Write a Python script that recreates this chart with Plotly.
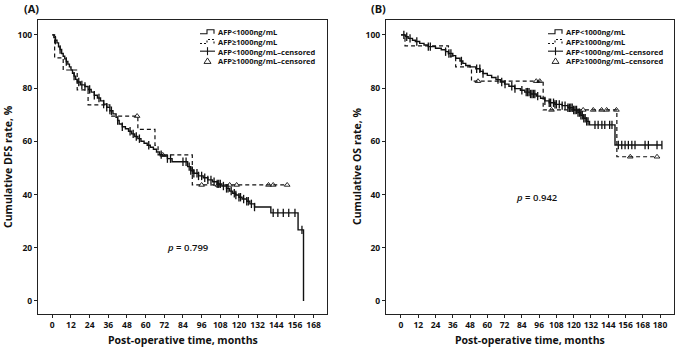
import numpy as np
import plotly.graph_objects as go

W, H = 677, 349

# ---------------- Panel A: DFS ----------------
dfs_low_t = [0, 1, 2, 3, 4, 5, 6, 7, 8, 9, 10, 11, 12, 13, 14, 15, 16, 18, 21, 23, 25, 27, 29, 31, 33, 35,
             37, 39, 41, 42, 43, 45, 47, 49, 51, 53, 55, 57, 59, 61, 63, 65, 67, 69, 71, 74, 77, 87, 89,
             91, 94, 97, 100, 103, 106, 109, 112, 114, 116, 118, 120, 122, 125, 127, 130, 140.5, 158, 161.5]
dfs_low_s = [100, 99, 98, 97, 95.5, 94.5, 93, 92, 91, 90, 89, 88, 86.8, 85.6, 84.5, 83.3, 82.3, 81.2, 80.6,
             79.5, 78.5, 77.3, 76.3, 75.2, 74, 72.8, 71.5, 70.3, 69, 67.8, 66.5, 65.5, 64.7, 63.8, 62.8,
             61.8, 61, 60, 59.3, 58.5, 57.8, 57, 56, 55, 54.5, 53.5, 52.3, 50.5, 49, 48, 47, 46.3, 45.5,
             44.8, 44, 43.2, 42.3, 41.3, 40.5, 39.8, 39, 38.3, 37.5, 36.5, 35.3, 33.1, 26.7, 0]
dfs_low_cens = [2, 5, 9, 14, 17, 19, 21, 24, 27, 30, 33, 35, 38, 42, 45, 50, 52, 54, 56, 62, 70, 74, 76,
                84, 86, 88, 89, 90, 91, 93, 94, 96, 98, 100, 102, 104, 106, 107, 108, 110, 112, 113, 115,
                117, 118, 120, 121, 123, 125, 126, 128, 130, 142, 145, 148.5, 152, 156, 160.5]
dfs_high_t = [0, 1.5, 7, 16, 23, 37, 55, 66, 68, 90]
dfs_high_s = [100, 91.4, 86.8, 79.3, 73.7, 69.5, 64.5, 58.5, 54.9, 43.6]
dfs_high_cens = [54.5, 71, 96, 106.5, 114, 118.5, 139, 142, 151]

# ---------------- Panel B: OS ----------------
os_low_t = [0, 3, 5, 8, 10, 13, 16, 19, 24, 28, 31, 33, 36, 38, 41, 43, 45, 48, 52, 55, 57, 60, 63, 66,
            69, 72, 75, 79, 83, 86, 90, 94, 97, 100, 103, 107, 112, 116, 120, 123, 125, 127, 129, 131,
            148.7]
os_low_s = [100, 99.3, 98.7, 98, 97.5, 96.8, 96.2, 95.6, 95, 94.4, 93.7, 93, 92.2, 91.2, 90.2, 89.3,
            88.5, 88, 87.3, 86.3, 85.5, 84.8, 84, 83.2, 82.3, 81.5, 80.7, 79.8, 79.2, 78.5, 77.8, 77,
            76.2, 75.2, 74.5, 73.9, 73.4, 72.6, 71.8, 70.8, 69.8, 68.7, 67.5, 66.2, 58.6]
os_low_cens = [2, 4, 6.3, 11, 19, 20.4, 31, 33.3, 34.7, 42, 52.6, 54.8, 57, 67.4, 70, 72.3, 77, 79.2, 84,
               87, 88, 89, 90, 91, 92, 93, 95, 100, 103, 104, 106, 107, 108, 110, 112, 114, 116, 117,
               118, 119, 120, 121, 122, 123, 124, 125, 126, 127, 128, 129, 130, 134.8, 137, 139.6, 141.6,
               145, 146.6, 151, 153.4, 155.7, 158, 160.4, 162.6, 169.6, 171.9, 177.9, 181.3]
os_high_t = [0, 2.8, 33, 38, 49, 98.8, 150]
os_high_s = [100, 95.9, 92, 88, 82.6, 71.8, 54.2]
os_high_cens = [53.5, 94, 96.4, 104.6, 126.6, 133.6, 139.4, 142.9, 149.7, 159.3, 177.9]

x_ticks_a = list(range(0, 169, 12))
x_ticks_b = list(range(0, 181, 12))
y_ticks = [0, 20, 40, 60, 80, 100]

legend_labels = ["AFP<1000ng/mL", "AFP\u22651000ng/mL", "AFP<1000ng/mL\u2013censored",
                 "AFP\u22651000ng/mL\u2013censored"]

FONT = "Open Sans"
INK = "#111111"


def step_value(ts, ss, t):
    i = np.searchsorted(np.asarray(ts), t, side="right") - 1
    return ss[max(i, 0)]


def curve_xy(ts, ss, cens):
    end = max(ts[-1], max(cens))
    return list(ts) + [end], list(ss) + [ss[-1]]


fig = go.Figure()


def add_panel(xa, ya, lo_t, lo_s, lo_c, hi_t, hi_s, hi_c):
    x, y = curve_xy(hi_t, hi_s, hi_c)
    fig.add_trace(go.Scatter(x=x, y=y, mode="lines", line=dict(color=INK, width=1.2, dash="4px,3px", shape="hv"),
                             xaxis=xa, yaxis=ya, showlegend=False, hoverinfo="skip"))
    x, y = curve_xy(lo_t, lo_s, lo_c)
    fig.add_trace(go.Scatter(x=x, y=y, mode="lines", line=dict(color=INK, width=1.4, shape="hv"),
                             xaxis=xa, yaxis=ya, showlegend=False, hoverinfo="skip"))
    fig.add_trace(go.Scatter(x=lo_c, y=[step_value(lo_t, lo_s, t) for t in lo_c], mode="markers",
                             marker=dict(symbol="line-ns", size=6, line=dict(color=INK, width=1.3)),
                             xaxis=xa, yaxis=ya, showlegend=False, hoverinfo="skip"))
    fig.add_trace(go.Scatter(x=hi_c, y=[step_value(hi_t, hi_s, t) for t in hi_c], mode="markers",
                             marker=dict(symbol="triangle-up-open", size=5, color=INK,
                                         line=dict(color=INK, width=0.9)),
                             xaxis=xa, yaxis=ya, showlegend=False, hoverinfo="skip"))


add_panel("x", "y", dfs_low_t, dfs_low_s, dfs_low_cens, dfs_high_t, dfs_high_s, dfs_high_cens)
add_panel("x2", "y2", os_low_t, os_low_s, os_low_cens, os_high_t, os_high_s, os_high_cens)


def px(xp):
    return xp / W


def py(yp):
    return 1 - yp / H


ydom = [py(314), py(20)]
axis_common = dict(showline=True, linecolor="#222222", linewidth=1.3, mirror=True, ticks="outside",
                   ticklen=3, tickwidth=1, tickcolor="#222222", showgrid=False, zeroline=False,
                   tickfont=dict(family=FONT, size=8.5, color=INK, weight="bold"))

fig.update_layout(
    width=W, height=H, margin=dict(l=0, r=0, t=0, b=0),
    paper_bgcolor="white", plot_bgcolor="white", showlegend=False,
    xaxis=dict(domain=[px(38), px(327)], range=[-9.2, 176.6], tickvals=x_ticks_a, anchor="y", **axis_common),
    yaxis=dict(domain=ydom, range=[-4.9, 105.6], tickvals=y_ticks, anchor="x", **axis_common),
    xaxis2=dict(domain=[px(386), px(674)], range=[-10.4, 189.7], tickvals=x_ticks_b, anchor="y2", **axis_common),
    yaxis2=dict(domain=ydom, range=[-4.9, 105.6], tickvals=y_ticks, anchor="x2", **axis_common),
)

ann = []
bold = dict(family=FONT, color=INK, weight="bold")
# panel letters
ann.append(dict(x=px(22), y=py(9), xref="paper", yref="paper", text="(A)", showarrow=False,
                xanchor="left", yanchor="middle", font=dict(size=11, **bold)))
ann.append(dict(x=px(369), y=py(9), xref="paper", yref="paper", text="(B)", showarrow=False,
                xanchor="left", yanchor="middle", font=dict(size=11, **bold)))
# axis titles
ann.append(dict(x=px(183), y=py(340), xref="paper", yref="paper", text="Post-operative time, months",
                showarrow=False, xanchor="center", yanchor="middle", font=dict(size=10.5, **bold)))
ann.append(dict(x=px(530), y=py(340), xref="paper", yref="paper", text="Post-operative time, months",
                showarrow=False, xanchor="center", yanchor="middle", font=dict(size=10.5, **bold)))
ann.append(dict(x=px(8), y=py(167), xref="paper", yref="paper", text="Cumulative DFS rate, %",
                showarrow=False, textangle=-90, xanchor="center", yanchor="middle", font=dict(size=10.5, **bold)))
ann.append(dict(x=px(357), y=py(167), xref="paper", yref="paper", text="Cumulative OS rate, %",
                showarrow=False, textangle=-90, xanchor="center", yanchor="middle", font=dict(size=10.5, **bold)))
# p-values
ann.append(dict(x=px(188), y=py(247), xref="paper", yref="paper", text="<i>p</i> = 0.799",
                showarrow=False, xanchor="center", yanchor="middle",
                font=dict(size=9.5, family=FONT, color=INK, weight=600)))
ann.append(dict(x=px(537), y=py(197), xref="paper", yref="paper", text="<i>p</i> = 0.942",
                showarrow=False, xanchor="center", yanchor="middle",
                font=dict(size=9.5, family=FONT, color=INK, weight=600)))

shapes = []
LEG_FS = 7.5
lh = LEG_FS * 1.3
leg_mid = 46.3
leg_rows = [leg_mid + (i - 1.5) * lh for i in range(4)]
for x0 in (200, 548):
    xt = x0 + 17
    ann.append(dict(x=px(xt), y=py(leg_mid), xref="paper", yref="paper", text="<br>".join(legend_labels),
                    showarrow=False, xanchor="left", yanchor="middle", align="left",
                    borderpad=0, font=dict(size=LEG_FS, **bold)))
    # row1: solid step glyph
    y1 = leg_rows[0]
    shapes.append(dict(type="path", xref="paper", yref="paper",
                       path=f"M {px(x0)} {py(y1+2)} L {px(x0+7)} {py(y1+2)} L {px(x0+7)} {py(y1-2)} "
                            f"L {px(x0+14)} {py(y1-2)} L {px(x0+14)} {py(y1+2)}",
                       line=dict(color=INK, width=1.1)))
    # row2: dashed step glyph
    y2 = leg_rows[1]
    shapes.append(dict(type="path", xref="paper", yref="paper",
                       path=f"M {px(x0)} {py(y2+2)} L {px(x0+7)} {py(y2+2)} L {px(x0+7)} {py(y2-2)} "
                            f"L {px(x0+14)} {py(y2-2)} L {px(x0+14)} {py(y2+2)}",
                       line=dict(color=INK, width=1.1, dash="2px,2px")))
    # row3: line with cross
    y3 = leg_rows[2]
    shapes.append(dict(type="line", xref="paper", yref="paper", x0=px(x0), x1=px(x0+15), y0=py(y3), y1=py(y3),
                       line=dict(color=INK, width=1.1)))
    shapes.append(dict(type="line", xref="paper", yref="paper", x0=px(x0+7.5), x1=px(x0+7.5),
                       y0=py(y3-4), y1=py(y3+4), line=dict(color=INK, width=1.1)))
    # row4: triangle
    y4 = leg_rows[3]
    shapes.append(dict(type="path", xref="paper", yref="paper",
                       path=f"M {px(x0+4)} {py(y4+2.5)} L {px(x0+11)} {py(y4+2.5)} L {px(x0+7.5)} {py(y4-3)} Z",
                       line=dict(color=INK, width=0.9)))

fig.update_layout(annotations=ann, shapes=shapes)
fig.write_html("out.html")
